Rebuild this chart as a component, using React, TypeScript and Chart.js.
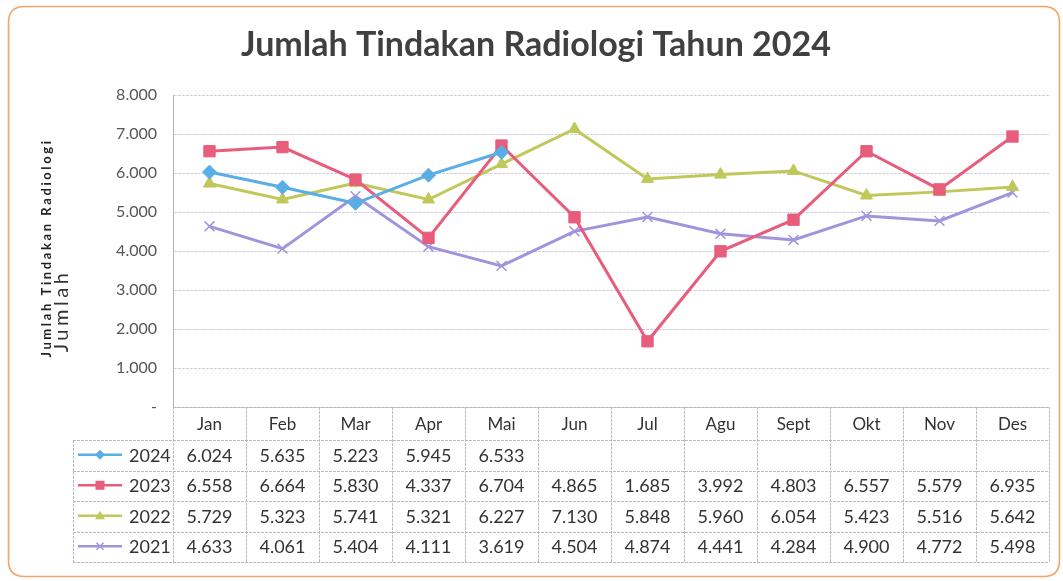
import React, { useEffect, useRef } from 'react';
import { Chart, registerables } from 'chart.js';
Chart.register(...registerables);

const months = ['Jan', 'Feb', 'Mar', 'Apr', 'Mai', 'Jun', 'Jul', 'Agu', 'Sept', 'Okt', 'Nov', 'Des'];
const seriesNames = ['2024', '2023', '2022', '2021'];
const s2024 = [6024, 5635, 5223, 5945, 6533, null, null, null, null, null, null, null];
const s2023 = [6558, 6664, 5830, 4337, 6704, 4865, 1685, 3992, 4803, 6557, 5579, 6935];
const s2022 = [5729, 5323, 5741, 5321, 6227, 7130, 5848, 5960, 6054, 5423, 5516, 5642];
const s2021 = [4633, 4061, 5404, 4111, 3619, 4504, 4874, 4441, 4284, 4900, 4772, 5498];
const yMin = 0;
const yMax = 8000;
const yStep = 1000;

const title = 'Jumlah Tindakan Radiologi Tahun 2024';
const yTitle = 'Jumlah Tindakan Radiologi';
const yTitle2 = 'Jumlah';

const colors = ['#5aaee6', '#e85c7c', '#c0c85a', '#a294dc'];
const markerStyles = ['rectRot', 'rect', 'triangle', 'crossRot'];
const allSeries = [s2024, s2023, s2022, s2021];

const fmt = (v: number | null) =>
  v === null ? '' : String(v).replace(/\B(?=(\d{3})+(?!\d))/g, '.');

const FONT = 'Lato, "Open Sans", sans-serif';

function drawMarker(ctx: CanvasRenderingContext2D, style: string, x: number, y: number, r: number, color: string) {
  ctx.save();
  ctx.fillStyle = color;
  ctx.strokeStyle = color;
  ctx.lineWidth = 1.5;
  ctx.beginPath();
  if (style === 'rect') {
    ctx.rect(x - r * 0.9, y - r * 0.9, r * 1.8, r * 1.8);
    ctx.fill();
  } else if (style === 'rectRot') {
    ctx.moveTo(x, y - r);
    ctx.lineTo(x + r, y);
    ctx.lineTo(x, y + r);
    ctx.lineTo(x - r, y);
    ctx.closePath();
    ctx.fill();
  } else if (style === 'triangle') {
    ctx.moveTo(x, y - r);
    ctx.lineTo(x + r, y + r * 0.7);
    ctx.lineTo(x - r, y + r * 0.7);
    ctx.closePath();
    ctx.fill();
  } else {
    ctx.moveTo(x - r * 0.7, y - r * 0.7);
    ctx.lineTo(x + r * 0.7, y + r * 0.7);
    ctx.moveTo(x + r * 0.7, y - r * 0.7);
    ctx.lineTo(x - r * 0.7, y + r * 0.7);
    ctx.stroke();
  }
  ctx.restore();
}

const framePlugin = {
  id: 'frame',
  beforeDraw(chart: any) {
    const ctx = chart.ctx as CanvasRenderingContext2D;
    ctx.save();
    ctx.fillStyle = '#ffffff';
    ctx.fillRect(0, 0, chart.width, chart.height);
    ctx.strokeStyle = '#f2a56a';
    ctx.lineWidth = 1.6;
    const x = 8.5, y = 6.5, w = 1051, h = 570, r = 16;
    ctx.beginPath();
    ctx.moveTo(x + r, y);
    ctx.lineTo(x + w - r, y);
    ctx.quadraticCurveTo(x + w, y, x + w, y + r);
    ctx.lineTo(x + w, y + h - r);
    ctx.quadraticCurveTo(x + w, y + h, x + w - r, y + h);
    ctx.lineTo(x + r, y + h);
    ctx.quadraticCurveTo(x, y + h, x, y + h - r);
    ctx.lineTo(x, y + r);
    ctx.quadraticCurveTo(x, y, x + r, y);
    ctx.stroke();
    ctx.restore();
  },
  afterDraw(chart: any) {
    const ctx = chart.ctx as CanvasRenderingContext2D;
    const area = chart.chartArea;
    const xs = chart.scales.x;
    ctx.save();
    // Title
    ctx.fillStyle = '#404040';
    ctx.font = `bold 34px ${FONT}`;
    ctx.textAlign = 'center';
    ctx.textBaseline = 'middle';
    ctx.fillText(title, 536, 45);
    // Y titles
    ctx.save();
    ctx.translate(47, 248);
    ctx.rotate(-Math.PI / 2);
    ctx.fillStyle = '#222';
    ctx.font = `bold 13px ${FONT}`;
    (ctx as any).letterSpacing = '2.6px';
    ctx.fillText(yTitle, 0, 0);
    ctx.restore();
    ctx.save();
    ctx.translate(62, 311);
    ctx.rotate(-Math.PI / 2);
    ctx.fillStyle = '#333';
    ctx.font = `20px ${FONT}`;
    (ctx as any).letterSpacing = '3.5px';
    ctx.fillText(yTitle2, 0, 0);
    ctx.restore();

    // Data table
    const left = area.left;
    const right = area.right;
    const colW = (right - left) / months.length;
    const top = area.bottom;
    const headerBottom = top + 33;
    const rowH = 30.5;
    const tableLeft = 73;
    const bottom = headerBottom + rowH * seriesNames.length;
    ctx.strokeStyle = '#b9b9c9';
    ctx.lineWidth = 1;
    ctx.setLineDash([3, 1]);
    ctx.beginPath();
    ctx.moveTo(left, top + 0.5);
    ctx.lineTo(right, top + 0.5);
    for (let i = 0; i <= seriesNames.length; i++) {
      const yy = Math.round(headerBottom + rowH * i) + 0.5;
      ctx.moveTo(tableLeft, yy);
      ctx.lineTo(right, yy);
    }
    for (let i = 0; i <= months.length; i++) {
      const xx = Math.round(left + colW * i) + 0.5;
      ctx.moveTo(xx, top);
      ctx.lineTo(xx, bottom);
    }
    ctx.moveTo(tableLeft + 0.5, headerBottom);
    ctx.lineTo(tableLeft + 0.5, bottom);
    ctx.stroke();
    ctx.setLineDash([]);

    ctx.fillStyle = '#333';
    ctx.font = `17px ${FONT}`;
    ctx.textAlign = 'center';
    months.forEach((m, i) => {
      const cx = xs.getPixelForValue(i);
      ctx.fillText(m, cx, 425);
    });
    ctx.font = `18px ${FONT}`;
    allSeries.forEach((s, r) => {
      const cy = headerBottom + rowH * r + rowH / 2 + 0.5;
      s.forEach((v, i) => {
        const cx = xs.getPixelForValue(i);
        ctx.fillText(fmt(v), cx, cy);
      });
      // legend
      ctx.save();
      ctx.strokeStyle = colors[r];
      ctx.lineWidth = 2.5;
      ctx.beginPath();
      ctx.moveTo(78, cy - 1);
      ctx.lineTo(122, cy - 1);
      ctx.stroke();
      drawMarker(ctx, markerStyles[r], 100, cy - 1, 5, colors[r]);
      ctx.restore();
      ctx.textAlign = 'left';
      ctx.fillText(seriesNames[r], 129, cy);
      ctx.textAlign = 'center';
    });
    ctx.restore();
  },
};

export default function App() {
  const ref = useRef<HTMLCanvasElement>(null);
  useEffect(() => {
    if (!ref.current) return;
    const chart = new Chart(ref.current, {
      type: 'line',
      data: {
        labels: months,
        datasets: allSeries.map((s, i) => ({
          label: seriesNames[i],
          data: s,
          borderColor: colors[i],
          backgroundColor: colors[i],
          pointBackgroundColor: colors[i],
          pointBorderColor: colors[i],
          pointStyle: markerStyles[i] as any,
          pointRadius: markerStyles[i] === 'rect' ? 8 : 7,
          pointBorderWidth: markerStyles[i] === 'crossRot' ? 1.5 : 1,
          borderWidth: 3,
          tension: 0,
          spanGaps: false,
        })),
      },
      options: {
        animation: false,
        responsive: false,
        layout: { padding: { top: 95, bottom: 174, left: 0, right: 14 } },
        plugins: {
          legend: { display: false },
          title: { display: false },
          tooltip: { enabled: false },
        },
        scales: {
          x: {
            type: 'category',
            display: false,
            offset: true,
          },
          y: {
            min: yMin,
            max: yMax,
            afterFit: (s: any) => {
              s.width = 173;
            },
            ticks: {
              stepSize: yStep,
              padding: 16,
              color: '#555',
              font: { family: FONT, size: 16 },
              callback: (v: any) => (Number(v) === 0 ? '-' : fmt(Number(v))),
            },
            grid: {
              color: '#cfcfdc',
              drawTicks: false,
            },
            border: { display: true, color: '#b0b0c0', width: 1, dash: [3, 1] },
          },
        },
      },
      plugins: [framePlugin],
    });
    return () => chart.destroy();
  }, []);
  return (
    <div style={{ position: 'fixed', left: 0, top: 0, width: 1063, height: 581, background: '#fff' }}>
      <canvas ref={ref} width={1063} height={581} style={{ width: 1063, height: 581, display: 'block' }} />
    </div>
  );
}
